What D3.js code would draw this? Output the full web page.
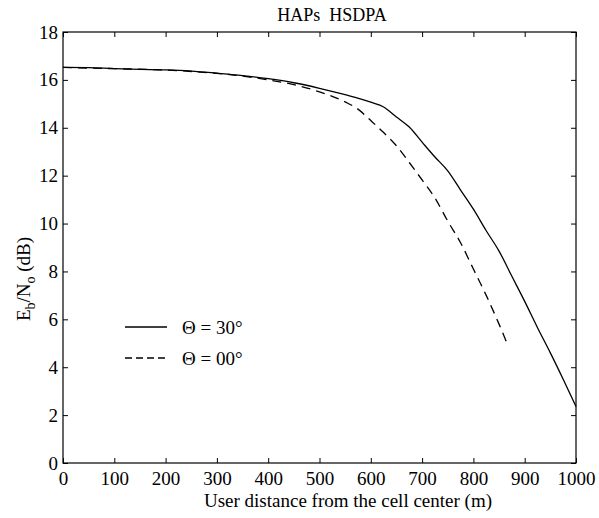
<!DOCTYPE html>
<html>
<head>
<meta charset="utf-8">
<script src="https://cdn.jsdelivr.net/npm/d3@7.9.0/dist/d3.min.js"></script>
<style>
  body { margin: 0; background: #fff; }
  svg text { font-family: "Liberation Serif", "Times New Roman", serif !important; fill: #000; }
</style>
</head>
<body>
<svg id="chart" width="599" height="518"></svg>
<script>
// distance (m) and Eb/No (dB)
const dist30 = [0, 50, 100, 150, 200, 250, 300, 350, 400, 450, 500, 550, 600, 625, 650, 675, 700, 725, 750, 775, 800, 825, 850, 875, 900, 925, 950, 975, 1000];
const ebno30 = [16.52, 16.51, 16.47, 16.44, 16.42, 16.37, 16.28, 16.18, 16.05, 15.88, 15.65, 15.38, 15.07, 14.87, 14.45, 14.03, 13.4, 12.78, 12.2, 11.4, 10.6, 9.7, 8.85, 7.8, 6.75, 5.65, 4.6, 3.5, 2.36];

const dist00 = [0, 100, 200, 300, 350, 400, 450, 500, 550, 575, 600, 625, 650, 675, 700, 725, 750, 775, 800, 825, 850, 868];
const ebno00 = [16.52, 16.47, 16.41, 16.27, 16.16, 16.0, 15.8, 15.5, 15.08, 14.78, 14.3, 13.8, 13.25, 12.55, 11.82, 11.07, 10.1, 9.2, 8.1, 7.0, 5.8, 4.87];

const xTicks = d3.range(0, 1001, 100);
const yTicks = d3.range(0, 19, 2);
const legendLabels = ["\u0398 = 30\u00b0", "\u0398 = 00\u00b0"];

const svg = d3.select("#chart");
const margin = { top: 32, right: 23, bottom: 55, left: 63 };
const width = +svg.attr("width") - margin.left - margin.right;
const height = +svg.attr("height") - margin.top - margin.bottom;
const serif = "'Liberation Serif', 'Times New Roman', serif";

svg.append("rect").attr("width", 599).attr("height", 518).attr("fill", "#fff");
const g = svg.append("g").attr("transform", `translate(${margin.left},${margin.top})`);

const x = d3.scaleLinear().domain([0, 1000]).range([0, width]);
const y = d3.scaleLinear().domain([0, 18]).range([height, 0]);

// Axes, ticks pointing inwards on all four sides
const fontSize = 19;
g.append("g").attr("transform", `translate(0,${height})`)
  .call(d3.axisBottom(x).tickValues(xTicks).tickFormat(d3.format("d"))
    .tickSizeInner(-5).tickSizeOuter(0).tickPadding(9));
g.append("g")
  .call(d3.axisLeft(y).tickValues(yTicks).tickFormat(d3.format("d"))
    .tickSizeInner(-5).tickSizeOuter(0).tickPadding(5));
g.append("g")
  .call(d3.axisTop(x).tickValues(xTicks).tickSizeInner(-5).tickSizeOuter(0).tickFormat(""));
g.append("g").attr("transform", `translate(${width},0)`)
  .call(d3.axisRight(y).tickValues(yTicks).tickSizeInner(-5).tickSizeOuter(0).tickFormat(""));

g.selectAll(".domain").remove();
g.selectAll("g").attr("font-family", serif);
g.selectAll(".tick line").attr("stroke", "#000").attr("stroke-width", 1);
g.selectAll(".tick text")
  .attr("font-family", serif)
  .attr("font-size", fontSize)
  .attr("fill", "#000");

g.append("rect")
  .attr("width", width)
  .attr("height", height)
  .attr("fill", "none")
  .attr("stroke", "#000")
  .attr("stroke-width", 1.2);

// Curves
const line = d3.line()
  .x(d => x(d[0]))
  .y(d => y(d[1]))
  .curve(d3.curveMonotoneX);

g.append("path")
  .datum(d3.zip(dist30, ebno30))
  .attr("fill", "none")
  .attr("stroke", "#000")
  .attr("stroke-width", 1.3)
  .attr("d", line);

g.append("path")
  .datum(d3.zip(dist00, ebno00))
  .attr("fill", "none")
  .attr("stroke", "#000")
  .attr("stroke-width", 1.3)
  .attr("stroke-dasharray", "9,6")
  .attr("d", line);

// Title
svg.append("text")
  .attr("x", 332)
  .attr("y", 21)
  .attr("text-anchor", "middle")
  .attr("font-family", serif)
  .attr("font-size", 18)
  .attr("xml:space", "preserve")
  .text("HAPs  HSDPA");

// X label
svg.append("text")
  .attr("x", 348)
  .attr("y", 507)
  .attr("text-anchor", "middle")
  .attr("font-family", serif)
  .attr("font-size", 19)
  .text("User distance from the cell center (m)");

// Y label with subscripts
const yl = svg.append("text")
  .attr("transform", "translate(30,279) rotate(-90)")
  .attr("text-anchor", "middle")
  .attr("font-family", serif)
  .attr("font-size", 19);
yl.append("tspan").text("E");
yl.append("tspan").attr("dy", 5).attr("font-size", 14).text("b");
yl.append("tspan").attr("dy", -5).text("/N");
yl.append("tspan").attr("dy", 5).attr("font-size", 14).text("o");
yl.append("tspan").attr("dy", -5).text(" (dB)");

// Legend
const legend = svg.append("g");
const legendY = [327, 358];
legendLabels.forEach((label, i) => {
  legend.append("line")
    .attr("x1", 125).attr("x2", 167)
    .attr("y1", legendY[i]).attr("y2", legendY[i])
    .attr("stroke", "#000")
    .attr("stroke-width", 1.3)
    .attr("stroke-dasharray", i === 1 ? "7,4" : null);
  legend.append("text")
    .attr("x", 182)
    .attr("y", legendY[i])
    .attr("dy", "0.35em")
    .attr("font-family", serif)
    .attr("font-size", 19)
    .text(label);
});
</script>
</body>
</html>
